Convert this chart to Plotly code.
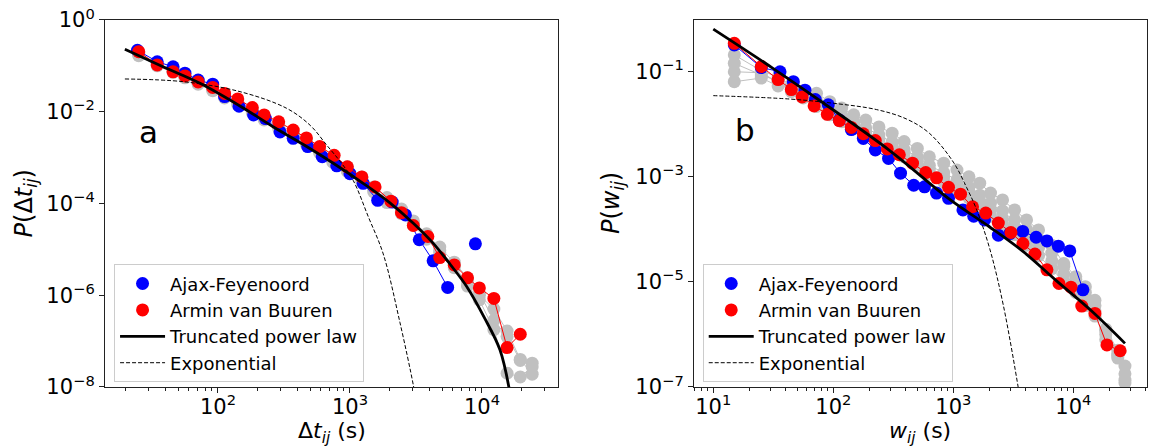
import plotly.graph_objects as go

# ---------------------------------------------------------------------------
# Panel a: inter-event times  Δt_ij  (values stored as log10)
# ---------------------------------------------------------------------------
dt_ajax_logx = [1.39, 1.54, 1.66, 1.75, 1.85, 1.96, 2.05, 2.16, 2.27, 2.36, 2.47, 2.57,
                2.68, 2.79, 2.90, 3.00, 3.10, 3.21, 3.32, 3.42, 3.525, 3.63, 3.74, 3.95]
dt_ajax_logp = [-0.66, -0.91, -1.02, -1.16, -1.31, -1.40, -1.67, -1.88, -2.07, -2.15, -2.44, -2.58,
                -2.76, -2.98, -3.18, -3.35, -3.56, -3.93, -3.97, -4.25, -4.79, -5.25, -5.83, -4.88]

dt_armin_logx = [1.40, 1.54, 1.66, 1.75, 1.85, 1.96, 2.05, 2.15, 2.26, 2.35, 2.46, 2.57, 2.67, 2.77,
                 2.88, 2.98, 3.09, 3.19, 3.31, 3.39, 3.48, 3.59, 3.68, 3.79, 3.89, 3.98, 4.09, 4.19, 4.29]
dt_armin_logp = [-0.69, -0.98, -1.13, -1.22, -1.35, -1.47, -1.60, -1.72, -1.91, -2.07, -2.22, -2.40, -2.57, -2.76,
                 -2.95, -3.20, -3.42, -3.64, -3.95, -4.20, -4.48, -4.72, -5.18, -5.34, -5.62, -5.84, -6.07, -7.14, -6.85]

# other events (grey)
dt_other_logx = [1.40, 1.54, 1.66, 1.75, 1.85, 1.96, 2.05, 2.15, 2.26, 2.35, 2.46, 2.57, 2.67, 2.77, 2.87,
                 2.98, 3.09, 3.18, 3.28, 3.39, 3.48, 3.58, 3.68, 3.79, 3.89, 3.98, 4.09, 4.19, 4.29, 4.38]
dt_other_logp = [
    [-0.78, -1.00, -1.14, -1.26, -1.40, -1.54, -1.70, -1.85, -2.02, -2.18, -2.36, -2.53, -2.71, -2.90, -3.10,
     -3.30, -3.52, -3.75, -3.98, -4.22, -4.48, -4.78, -5.08, -5.40, -5.70, -6.00, -6.30, -6.78, -7.40, -7.72],
    [-0.72, -0.95, -1.08, -1.20, -1.33, -1.47, -1.62, -1.78, -1.94, -2.10, -2.27, -2.45, -2.62, -2.80, -3.00,
     -3.20, -3.42, -3.64, -3.87, -4.12, -4.38, -4.66, -4.95, -5.28, -5.62, -5.95, -6.55, -6.90, -7.42, -7.48],
    [-0.75, -0.98, -1.12, -1.24, -1.37, -1.51, -1.66, -1.82, -1.98, -2.14, -2.32, -2.49, -2.66, -2.85, -3.05,
     -3.25, -3.47, -3.70, -3.93, -4.17, -4.43, -4.72, -5.02, -5.35, -5.80, -6.10, -6.75, -7.70, -7.78, -7.56],
]

dt_tpl_logx = [1.295, 1.60, 1.864, 2.17, 2.417, 2.65, 2.871, 3.10, 3.30, 3.48, 3.631, 3.76, 3.884, 4.02, 4.136, 4.21]
dt_tpl_logp = [-0.639, -1.04, -1.38, -1.88, -2.326, -2.72, -3.117, -3.56, -3.98, -4.43, -4.87, -5.33, -5.81, -6.50, -7.19, -8.1]

dt_exp_logx = [1.295, 1.737, 2.167, 2.52, 2.70, 2.823, 2.93, 3.025, 3.139, 3.252, 3.379, 3.48, 3.50]
dt_exp_logp = [-1.286, -1.345, -1.562, -1.925, -2.30, -2.725, -3.10, -3.50, -4.29, -5.10, -6.60, -7.96, -8.3]

# ---------------------------------------------------------------------------
# Panel b: weights  w_ij  (values stored as log10)
# ---------------------------------------------------------------------------
w_ajax_logx = [1.175, 1.40, 1.556, 1.667, 1.764, 1.85, 1.958, 2.05, 2.15, 2.25, 2.35, 2.46, 2.56, 2.67,
               2.76, 2.86, 2.96, 3.08, 3.17, 3.26, 3.375, 3.47, 3.578, 3.69, 3.78, 3.875, 3.97, 4.08]
w_ajax_logp = [-0.49, -0.92, -1.00, -1.19, -1.35, -1.53, -1.63, -1.92, -2.10, -2.27, -2.49, -2.65, -2.93, -3.16,
               -3.19, -3.31, -3.41, -3.63, -3.75, -3.82, -4.11, -4.08, -4.04, -4.15, -4.22, -4.32, -4.41, -5.15]

w_armin_logx = [1.175, 1.40, 1.54, 1.65, 1.74, 1.84, 1.95, 2.05, 2.15, 2.25, 2.35, 2.45, 2.55, 2.66, 2.77, 2.86,
                2.96, 3.06, 3.16, 3.27, 3.375, 3.48, 3.58, 3.68, 3.78, 3.88, 3.98, 4.07, 4.18, 4.28, 4.39]
w_armin_logp = [-0.46, -0.90, -1.15, -1.34, -1.48, -1.65, -1.81, -1.93, -2.06, -2.18, -2.31, -2.47, -2.58, -2.74, -2.92, -3.02,
                -3.20, -3.33, -3.57, -3.69, -3.88, -4.06, -4.27, -4.47, -4.77, -5.03, -5.10, -5.46, -5.60, -6.20, -6.31]

w_other_logx = [1.175, 1.40, 1.54, 1.65, 1.75, 1.86, 1.97, 2.07, 2.17, 2.27, 2.38, 2.49, 2.59, 2.70, 2.80, 2.92,
                3.03, 3.13, 3.22, 3.31, 3.41, 3.51, 3.61, 3.71, 3.82, 3.92, 4.02, 4.10, 4.18, 4.27, 4.37, 4.43]
w_other_logp = [
    [-1.19, -1.12, -1.27, -1.30, -1.36, -1.41, -1.57, -1.69, -1.82, -1.92, -2.05, -2.17, -2.33, -2.46, -2.62, -2.74,
     -2.87, -3.00, -3.12, -3.31, -3.44, -3.63, -3.82, -4.01, -4.30, -4.65, -4.90, -5.09, -5.35, -5.92, -6.37, -6.87],
    [-1.00, -1.02, -1.20, -1.33, -1.45, -1.55, -1.70, -1.82, -1.95, -2.07, -2.20, -2.34, -2.48, -2.62, -2.78, -2.92,
     -3.06, -3.20, -3.35, -3.50, -3.65, -3.82, -4.00, -4.20, -4.45, -4.70, -4.95, -5.20, -5.45, -5.90, -6.30, -6.60],
    [-0.84, -1.06, -1.18, -1.38, -1.50, -1.66, -1.82, -1.95, -2.08, -2.20, -2.35, -2.50, -2.62, -2.78, -2.95, -3.10,
     -3.26, -3.40, -3.60, -3.75, -3.92, -4.10, -4.30, -4.50, -4.75, -5.00, -5.20, -5.45, -5.65, -6.10, -6.45, -6.92],
    [-0.68, -0.98, -1.10, -1.25, -1.40, -1.58, -1.75, -1.88, -2.02, -2.14, -2.28, -2.42, -2.55, -2.70, -2.86, -3.00,
     -3.15, -3.30, -3.47, -3.62, -3.80, -3.96, -4.15, -4.35, -4.60, -4.85, -5.08, -5.32, -5.55, -6.00, -6.40, -6.75],
]

w_tpl_logx = [1.0, 1.5, 1.92, 2.47, 2.97, 3.3, 3.58, 3.86, 4.15, 4.43]
w_tpl_logp = [-0.19, -0.94, -1.60, -2.50, -3.43, -3.95, -4.42, -4.98, -5.55, -6.17]

w_exp_logx = [1.0, 1.64, 2.0, 2.36, 2.61, 2.8, 3.0, 3.11, 3.195, 3.306, 3.417, 3.54, 3.56]
w_exp_logp = [-1.455, -1.52, -1.60, -1.72, -1.90, -2.17, -2.72, -3.20, -3.63, -4.39, -5.45, -7.0, -7.3]

# tick labels
dt_xticks = [2, 3, 4]
dt_yticks = [0, -2, -4, -6, -8]
w_xticks = [1, 2, 3, 4]
w_yticks = [-1, -3, -5, -7]

# ---------------------------------------------------------------------------
FONT = "DejaVu Sans"
BLUE, RED, GREY = "#0000ff", "#ff0000", "#c0c0c0"
MS = 13


def lin(v):
    return [10 ** a for a in v]


def sup(e):
    return "10<sup>" + str(e).replace("-", "\u2212") + "</sup>"


fig = go.Figure()


def add_panel(xa, ya, leg, other_x, others, ajx, ajy, arx, ary, tx, ty, ex, ey, ajax_line_n):
    for oy in others:
        fig.add_trace(go.Scatter(x=lin(other_x), y=lin(oy), mode="lines+markers",
                                 line=dict(color=GREY, width=1),
                                 marker=dict(color=GREY, size=MS),
                                 showlegend=False, hoverinfo="skip", xaxis=xa, yaxis=ya))
    # Ajax-Feyenoord
    fig.add_trace(go.Scatter(x=lin(ajx[:ajax_line_n]), y=lin(ajy[:ajax_line_n]), mode="lines",
                             line=dict(color=BLUE, width=1), showlegend=False,
                             xaxis=xa, yaxis=ya))
    fig.add_trace(go.Scatter(x=lin(ajx), y=lin(ajy), mode="markers", name="Ajax-Feyenoord",
                             marker=dict(color=BLUE, size=MS), legend=leg, legendgroup=leg + "1",
                             xaxis=xa, yaxis=ya))
    # Armin van Buuren
    fig.add_trace(go.Scatter(x=lin(arx), y=lin(ary), mode="lines",
                             line=dict(color=RED, width=1), showlegend=False,
                             xaxis=xa, yaxis=ya))
    fig.add_trace(go.Scatter(x=lin(arx), y=lin(ary), mode="markers", name="Armin van Buuren",
                             marker=dict(color=RED, size=MS), legend=leg, legendgroup=leg + "2",
                             xaxis=xa, yaxis=ya))
    # fitted curves
    fig.add_trace(go.Scatter(x=lin(tx), y=lin(ty), mode="lines", name="Truncated power law",
                             line=dict(color="black", width=2.8, shape="spline"),
                             legend=leg, legendgroup=leg + "3", xaxis=xa, yaxis=ya))
    fig.add_trace(go.Scatter(x=lin(ex), y=lin(ey), mode="lines", name="Exponential",
                             line=dict(color="black", width=1, dash="4px,2px", shape="spline"),
                             legend=leg, legendgroup=leg + "4", xaxis=xa, yaxis=ya))


add_panel("x", "y", "legend", dt_other_logx, dt_other_logp,
          dt_ajax_logx, dt_ajax_logp, dt_armin_logx, dt_armin_logp,
          dt_tpl_logx, dt_tpl_logp, dt_exp_logx, dt_exp_logp, len(dt_ajax_logx) - 1)
add_panel("x2", "y2", "legend2", w_other_logx, w_other_logp,
          w_ajax_logx, w_ajax_logp, w_armin_logx, w_armin_logp,
          w_tpl_logx, w_tpl_logp, w_exp_logx, w_exp_logp, len(w_ajax_logx))


def minor_vals(lo, hi):
    out = []
    for d in range(lo, hi + 1):
        for m in range(2, 10):
            out.append(m * 10 ** d)
    return out


axis_common = dict(type="log", showgrid=False, zeroline=False, showline=True, mirror=True,
                   automargin=False,
                   linecolor="#222222", linewidth=1, ticks="outside", ticklen=5, tickwidth=1,
                   tickcolor="#222222", tickfont=dict(family=FONT, size=21, color="black"))

XT = dict(family=FONT, size=22, color="black")
YT = dict(family=FONT, size=24, color="black")

ydom = [0.1323, 0.9552]
legend_common = dict(y=0.1428, xanchor="left", yanchor="bottom",
                     bgcolor="rgba(255,255,255,0.8)", bordercolor="#cccccc", borderwidth=1,
                     font=dict(family=FONT, size=18, color="black"), tracegroupgap=0, itemwidth=45)


def label(text, x, y, font, angle=0):
    return dict(text=text, x=x, y=y, xref="paper", yref="paper", showarrow=False,
                xanchor="center", yanchor="middle", textangle=angle, font=font)


fig.update_layout(
    xaxis=dict(axis_common, domain=[0.0911, 0.4844], range=[1.144, 4.576], anchor="y",
               tickvals=lin(dt_xticks), ticktext=[sup(e) for e in dt_xticks], ticklabelstandoff=-4,
               minor=dict(tickvals=minor_vals(1, 4), ticks="outside", ticklen=3, tickcolor="#222222")),
    yaxis=dict(axis_common, domain=ydom, range=[-8, 0], anchor="x",
               tickvals=lin(dt_yticks), ticktext=[sup(e) for e in dt_yticks]),
    xaxis2=dict(axis_common, domain=[0.6024, 0.9957], range=[0.839, 4.614], anchor="y2",
                tickvals=lin(w_xticks), ticktext=[sup(e) for e in w_xticks], ticklabelstandoff=-4,
                minor=dict(tickvals=minor_vals(0, 4), ticks="outside", ticklen=3, tickcolor="#222222")),
    yaxis2=dict(axis_common, domain=ydom, range=[-7, -0.015], anchor="x2",
                tickvals=lin(w_yticks), ticktext=[sup(e) for e in w_yticks]),
    legend=dict(legend_common, x=0.099),
    legend2=dict(legend_common, x=0.610),
    annotations=[
        # axis titles
        label("\u0394<i>t<sub>ij</sub></i> (s)", 0.2878, 0.0313, XT),
        label("<i>w<sub>ij</sub></i> (s)", 0.7990, 0.0313, XT),
        label("<i>P</i>(\u0394<i>t<sub>ij</sub></i>)", 0.0225, 0.5437, YT, -90),
        label("<i>P</i>(<i>w<sub>ij</sub></i>)", 0.5317, 0.5437, YT, -90),
        # panel letters
        label("a", 0.1287, 0.7047, dict(family=FONT, size=31, color="black")),
        label("b", 0.6467, 0.7085, dict(family=FONT, size=31, color="black")),
    ],
    width=1152, height=446, margin=dict(l=0, r=0, t=0, b=0, autoexpand=False),
    paper_bgcolor="white", plot_bgcolor="white",
    font=dict(family=FONT, color="black"),
)

fig.write_html("out.html")
